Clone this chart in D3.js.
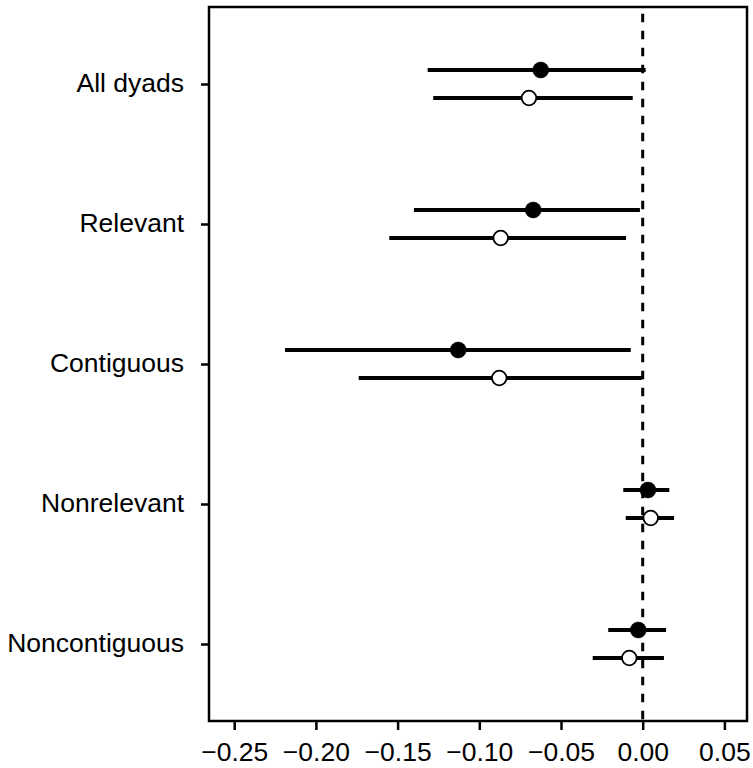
<!DOCTYPE html>
<html>
<head>
<meta charset="utf-8">
<script src="https://cdn.jsdelivr.net/npm/d3@7"></script>
<style>
  html, body { margin: 0; padding: 0; background: #fff; }
  svg { display: block; }
  text { font-family: "Liberation Sans", Arial, Helvetica, sans-serif; }
</style>
</head>
<body>
<svg id="chart" width="753" height="768"></svg>
<script>
// ---- data ----
const categories = ["All dyads", "Relevant", "Contiguous", "Nonrelevant", "Noncontiguous"];
// filled (first) series
const filledEst = [-0.0624, -0.0670, -0.1129, 0.0032, -0.0027];
const filledLo  = [-0.1316, -0.1400, -0.2189, -0.0119, -0.0211];
const filledHi  = [ 0.0018, -0.0017, -0.0073, 0.0163, 0.0143];
// open (second) series
const openEst = [-0.0696, -0.0869, -0.0878, 0.0049, -0.0082];
const openLo  = [-0.1282, -0.1551, -0.1738, -0.0104, -0.0306];
const openHi  = [-0.0061, -0.0102, -0.0006, 0.0192, 0.0130];
const xTicks = [-0.25, -0.20, -0.15, -0.10, -0.05, 0.00, 0.05];

// ---- layout ----
const svg = d3.select("#chart");
const plotLeft = 209, plotRight = 747, plotTop = 7, plotBottom = 721;
const fontSize = 26.5;

const x = d3.scaleLinear().domain([-0.25, 0.05]).range([234.2, 724.4]);
const y = d3.scaleLinear().domain([0.45, 5.55]).range([plotTop, plotBottom]);
const off = 0.1;

// reference dashed line at 0
svg.append("line")
  .attr("x1", x(0)).attr("x2", x(0))
  .attr("y1", plotTop).attr("y2", plotBottom)
  .attr("stroke", "#000").attr("stroke-width", 3)
  .attr("stroke-dasharray", "8.5,8.5").attr("stroke-dashoffset", 10.3);

const series = [
  { est: filledEst, lo: filledLo, hi: filledHi, dy: -off, fill: "#000" },
  { est: openEst, lo: openLo, hi: openHi, dy: off, fill: "#fff" }
];

series.forEach(s => {
  const g = svg.append("g");
  g.selectAll("line").data(categories).join("line")
    .attr("x1", (d, i) => x(s.lo[i])).attr("x2", (d, i) => x(s.hi[i]))
    .attr("y1", (d, i) => y(i + 1 + s.dy)).attr("y2", (d, i) => y(i + 1 + s.dy))
    .attr("stroke", "#000").attr("stroke-width", 4);
});
series.forEach(s => {
  svg.append("g").selectAll("circle").data(categories).join("circle")
    .attr("cx", (d, i) => x(s.est[i]))
    .attr("cy", (d, i) => y(i + 1 + s.dy))
    .attr("r", s.fill === "#000" ? 8 : 7.3)
    .attr("fill", s.fill).attr("stroke", "#000").attr("stroke-width", s.fill === "#000" ? 0.5 : 1.8);
});

// frame
svg.append("rect")
  .attr("x", plotLeft).attr("y", plotTop)
  .attr("width", plotRight - plotLeft).attr("height", plotBottom - plotTop)
  .attr("fill", "none").attr("stroke", "#000").attr("stroke-width", 2.5);

// x axis
const xAxis = svg.append("g").attr("transform", `translate(0,${plotBottom})`)
  .call(d3.axisBottom(x).tickValues(xTicks).tickFormat(d3.format(".2f")).tickSize(9).tickPadding(12));
xAxis.select(".domain").remove();
xAxis.selectAll(".tick line").attr("stroke-width", 2.5);
xAxis.selectAll(".tick text").attr("font-size", fontSize).attr("font-family", "'Liberation Sans', Arial, Helvetica, sans-serif").attr("fill", "#000");

// y axis
const yAxis = svg.append("g").attr("transform", `translate(${plotLeft},0)`)
  .call(d3.axisLeft(y).tickValues(categories.map((c, i) => i + 1))
    .tickFormat((d) => categories[d - 1]).tickSize(8).tickPadding(17));
yAxis.select(".domain").remove();
yAxis.selectAll(".tick line").attr("stroke-width", 2.5);
yAxis.selectAll(".tick text").attr("font-size", fontSize).attr("dy", "0.3em").attr("font-family", "'Liberation Sans', Arial, Helvetica, sans-serif").attr("fill", "#000");
</script>
</body>
</html>
